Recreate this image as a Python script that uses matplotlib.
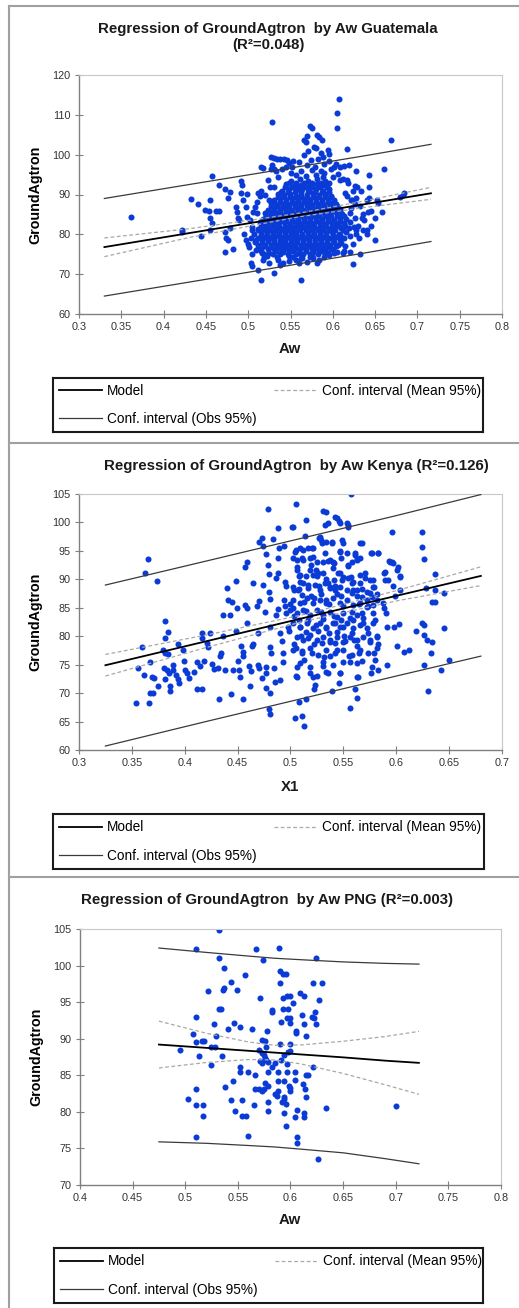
import matplotlib
matplotlib.use('Agg')
import matplotlib.pyplot as plt
from matplotlib.lines import Line2D

plt.rcParams['font.family'] = ['Liberation Sans', 'DejaVu Sans']

W, H = 519, 1308

# ---------------- data ----------------
# Guatemala: (Aw, GroundAgtron) points
gt_points = [
    (0.361, 84.4), (0.422, 81.1), (0.422, 80.5), (0.432, 88.9), (0.441, 87.6), (0.444, 79.6),
    (0.449, 86.0), (0.454, 85.8), (0.455, 88.5), (0.457, 94.7), (0.455, 84.0), (0.457, 82.8),
    (0.455, 81.1), (0.462, 85.8), (0.466, 85.9), (0.466, 92.4), (0.472, 80.7), (0.474, 79.2),
    (0.476, 78.6), (0.473, 75.5), (0.473, 91.3), (0.476, 89.0), (0.479, 90.7), (0.478, 81.7),
    (0.482, 76.4), (0.485, 86.9), (0.487, 85.6), (0.488, 84.0), (0.489, 83.6), (0.491, 93.3),
    (0.493, 92.4), (0.492, 90.3), (0.494, 88.6), (0.497, 86.9), (0.495, 80.2), (0.497, 78.6),
    (0.498, 84.4), (0.499, 90.1), (0.501, 76.9), (0.503, 72.7), (0.505, 72.0), (0.504, 81.9),
    (0.507, 80.2), (0.508, 86.9), (0.510, 85.3), (0.509, 76.0), (0.512, 90.3), (0.514, 89.5),
    (0.512, 71.0), (0.515, 68.5), (0.515, 97.0), (0.517, 96.6), (0.516, 75.2), (0.519, 74.4),
    (0.520, 83.1), (0.521, 81.1), (0.523, 93.7), (0.526, 92.0), (0.527, 99.5), (0.530, 99.1),
    (0.534, 99.0), (0.538, 99.0), (0.542, 99.0), (0.546, 98.7), (0.553, 98.4), (0.527, 96.3),
    (0.530, 96.3), (0.528, 108.1), (0.531, 70.2), (0.537, 72.3), (0.541, 72.7), (0.545, 97.0),
    (0.550, 95.3), (0.553, 74.4), (0.557, 73.6), (0.560, 72.7), (0.563, 68.5), (0.564, 74.0),
    (0.566, 103.7), (0.568, 103.1), (0.570, 104.6), (0.573, 107.1), (0.575, 106.7), (0.578, 102.0),
    (0.580, 101.6), (0.581, 104.9), (0.584, 104.4), (0.587, 103.7), (0.586, 100.4), (0.588, 99.5),
    (0.594, 101.2), (0.595, 100.2), (0.605, 110.4), (0.605, 106.7), (0.607, 114.1), (0.601, 97.0),
    (0.604, 97.7), (0.609, 97.0), (0.613, 97.2), (0.619, 97.3), (0.617, 101.4), (0.581, 72.7),
    (0.577, 74.0), (0.573, 74.4), (0.628, 96.0), (0.626, 92.1), (0.629, 92.0), (0.633, 91.0),
    (0.624, 72.5), (0.632, 75.0), (0.643, 95.0), (0.643, 92.0), (0.640, 88.6), (0.643, 89.0),
    (0.645, 85.9), (0.642, 85.6), (0.640, 81.2), (0.650, 78.6), (0.652, 88.5), (0.653, 87.8),
    (0.658, 85.6), (0.661, 96.5), (0.669, 103.6), (0.680, 89.3), (0.683, 90.0), (0.684, 90.3),
    (0.620, 75.5), (0.612, 75.2), (0.613, 75.9), (0.601, 75.2), (0.598, 76.2), (0.596, 74.7),
    (0.636, 81.2), (0.628, 80.2), (0.631, 79.1), (0.634, 84.0), (0.637, 83.6), (0.625, 81.9),
    (0.627, 81.1), (0.620, 85.3), (0.623, 88.6), (0.626, 87.6), (0.614, 90.3), (0.617, 89.5),
    (0.617, 93.7), (0.609, 93.7),
    # dense core
    (0.522, 74.6), (0.534, 74.2), (0.548, 74.5), (0.562, 74.1), (0.575, 74.7), (0.590, 74.3),
    (0.515, 75.8), (0.524, 75.4), (0.533, 75.9), (0.541, 75.5), (0.552, 75.7), (0.560, 75.3),
    (0.568, 75.8), (0.577, 75.5), (0.586, 75.9), (0.594, 75.4),
    (0.511, 76.6), (0.519, 77.0), (0.527, 76.7), (0.535, 77.1), (0.543, 76.6), (0.550, 77.0),
    (0.557, 76.5), (0.564, 76.9), (0.571, 77.1), (0.579, 76.6), (0.587, 77.0), (0.596, 76.7),
    (0.604, 77.1),
    (0.508, 78.2), (0.516, 77.8), (0.523, 78.3), (0.530, 77.9), (0.537, 78.1), (0.544, 77.7),
    (0.551, 78.2), (0.558, 78.0), (0.565, 77.8), (0.572, 78.3), (0.579, 77.9), (0.586, 78.2),
    (0.593, 77.8), (0.601, 78.1), (0.610, 77.9),
    (0.512, 79.0), (0.519, 79.4), (0.526, 79.1), (0.533, 79.5), (0.540, 79.0), (0.547, 79.3),
    (0.554, 78.9), (0.561, 79.4), (0.568, 79.1), (0.575, 79.5), (0.582, 79.0), (0.589, 79.3),
    (0.596, 79.0), (0.604, 79.4), (0.613, 79.1),
    (0.515, 80.6), (0.522, 80.2), (0.529, 80.5), (0.536, 80.1), (0.543, 80.6), (0.550, 80.3),
    (0.557, 80.7), (0.564, 80.2), (0.571, 80.5), (0.578, 80.1), (0.585, 80.6), (0.592, 80.3),
    (0.599, 80.5), (0.607, 80.2), (0.616, 80.6),
    (0.511, 81.4), (0.518, 81.8), (0.525, 81.5), (0.532, 81.9), (0.539, 81.4), (0.546, 81.7),
    (0.553, 81.3), (0.560, 81.8), (0.567, 81.5), (0.574, 81.9), (0.581, 81.4), (0.588, 81.7),
    (0.595, 81.3), (0.602, 81.8), (0.610, 81.5), (0.619, 81.7),
    (0.514, 83.0), (0.521, 82.6), (0.528, 82.9), (0.535, 82.5), (0.542, 83.0), (0.549, 82.7),
    (0.556, 83.1), (0.563, 82.6), (0.570, 82.9), (0.577, 82.5), (0.584, 83.0), (0.591, 82.7),
    (0.598, 83.1), (0.605, 82.6), (0.613, 82.9),
    (0.517, 83.8), (0.524, 84.2), (0.531, 83.9), (0.538, 84.3), (0.545, 83.8), (0.552, 84.1),
    (0.559, 83.7), (0.566, 84.2), (0.573, 83.9), (0.580, 84.3), (0.587, 83.8), (0.594, 84.1),
    (0.601, 83.7), (0.608, 84.2), (0.616, 83.9),
    (0.520, 85.4), (0.527, 85.0), (0.534, 85.3), (0.541, 84.9), (0.548, 85.4), (0.555, 85.1),
    (0.562, 85.5), (0.569, 85.0), (0.576, 85.3), (0.583, 84.9), (0.590, 85.4), (0.597, 85.1),
    (0.604, 85.5), (0.611, 85.0),
    (0.523, 86.2), (0.530, 86.6), (0.537, 86.3), (0.544, 86.7), (0.551, 86.2), (0.558, 86.5),
    (0.565, 86.1), (0.572, 86.6), (0.579, 86.3), (0.586, 86.7), (0.593, 86.2), (0.600, 86.5),
    (0.608, 86.3),
    (0.527, 87.8), (0.534, 87.4), (0.541, 87.7), (0.548, 87.3), (0.555, 87.8), (0.562, 87.5),
    (0.569, 87.9), (0.576, 87.4), (0.583, 87.7), (0.590, 87.3), (0.597, 87.8), (0.604, 87.5),
    (0.531, 88.6), (0.538, 89.0), (0.545, 88.7), (0.552, 89.1), (0.559, 88.6), (0.566, 88.9),
    (0.573, 88.5), (0.580, 89.0), (0.587, 88.7), (0.594, 89.1), (0.601, 88.6),
    (0.535, 90.2), (0.542, 89.8), (0.549, 90.1), (0.556, 89.7), (0.563, 90.2), (0.570, 89.9),
    (0.577, 90.3), (0.584, 89.8), (0.591, 90.1), (0.598, 89.7),
    (0.540, 91.0), (0.548, 91.4), (0.556, 91.1), (0.564, 91.5), (0.572, 91.0), (0.580, 91.3),
    (0.588, 90.9), (0.596, 91.4),
    (0.545, 92.6), (0.554, 92.2), (0.563, 92.5), (0.572, 92.1), (0.581, 92.6), (0.590, 92.3),
    (0.551, 93.4), (0.561, 93.8), (0.571, 93.5), (0.581, 93.9), (0.591, 93.4),
    (0.556, 95.0), (0.568, 94.6), (0.580, 94.9), (0.589, 94.5),
    (0.563, 95.8), (0.575, 96.2), (0.586, 95.9),
    # fringe
    (0.528, 97.5), (0.533, 95.8), (0.540, 96.3), (0.548, 97.8), (0.552, 96.8), (0.570, 97.5),
    (0.574, 98.6), (0.579, 97.0), (0.583, 99.0), (0.590, 97.6), (0.595, 98.3), (0.598, 96.5),
    (0.560, 98.2), (0.566, 100.0), (0.571, 101.0), (0.590, 95.5), (0.600, 94.5), (0.606, 95.2),
    (0.612, 94.0), (0.618, 92.8), (0.624, 91.0), (0.628, 89.2), (0.632, 87.0), (0.636, 85.0),
    (0.622, 86.5), (0.626, 84.0), (0.630, 82.0), (0.620, 79.5), (0.624, 77.5), (0.614, 77.0),
    (0.605, 75.5), (0.584, 73.6), (0.570, 73.0), (0.548, 73.2), (0.535, 73.5), (0.525, 72.8),
    (0.518, 73.5), (0.505, 75.0), (0.500, 77.5), (0.503, 79.0), (0.505, 81.0), (0.502, 83.5),
    (0.506, 85.5), (0.510, 88.0), (0.515, 91.0), (0.520, 90.0), (0.525, 88.5), (0.530, 92.0),
    (0.535, 94.5), (0.620, 83.0), (0.622, 88.5), (0.640, 80.0), (0.645, 82.0), (0.650, 84.0),
]

# Guatemala, densest part of the cloud, read row by row: (GroundAgtron, [Aw ...])
gt_core_rows = [
    (75.0, [0.519, 0.529, 0.538, 0.547, 0.556, 0.565, 0.573, 0.582, 0.591]),
    (76.2, [0.515, 0.523, 0.531, 0.539, 0.547, 0.554, 0.561, 0.568, 0.575, 0.583, 0.591, 0.600]),
    (77.4, [0.512, 0.520, 0.527, 0.534, 0.541, 0.548, 0.555, 0.562, 0.569, 0.576, 0.583, 0.590,
            0.597, 0.606]),
    (78.6, [0.509, 0.516, 0.523, 0.530, 0.537, 0.544, 0.551, 0.558, 0.565, 0.572, 0.579, 0.586,
            0.593, 0.600, 0.608]),
    (79.8, [0.515, 0.522, 0.529, 0.536, 0.543, 0.550, 0.557, 0.564, 0.571, 0.578, 0.585, 0.592,
            0.600, 0.609]),
    (81.0, [0.512, 0.519, 0.526, 0.533, 0.540, 0.547, 0.554, 0.561, 0.568, 0.575, 0.582, 0.589,
            0.596, 0.603, 0.612]),
    (82.2, [0.515, 0.522, 0.529, 0.536, 0.543, 0.550, 0.557, 0.564, 0.571, 0.578, 0.585, 0.592,
            0.599, 0.607, 0.615]),
    (83.4, [0.517, 0.524, 0.531, 0.538, 0.545, 0.552, 0.559, 0.566, 0.573, 0.580, 0.587, 0.594,
            0.601, 0.609]),
    (84.6, [0.521, 0.528, 0.535, 0.542, 0.549, 0.556, 0.563, 0.570, 0.577, 0.584, 0.591, 0.598,
            0.605, 0.613]),
    (85.8, [0.524, 0.531, 0.538, 0.545, 0.552, 0.559, 0.566, 0.573, 0.580, 0.587, 0.594, 0.601,
            0.609]),
    (87.0, [0.527, 0.534, 0.541, 0.548, 0.555, 0.562, 0.569, 0.576, 0.583, 0.590, 0.597, 0.605]),
    (88.2, [0.531, 0.538, 0.545, 0.552, 0.559, 0.566, 0.573, 0.580, 0.587, 0.594, 0.602]),
    (89.4, [0.535, 0.542, 0.549, 0.556, 0.563, 0.570, 0.577, 0.584, 0.591, 0.598]),
    (90.6, [0.539, 0.547, 0.555, 0.563, 0.571, 0.579, 0.587, 0.595]),
    (91.8, [0.543, 0.552, 0.560, 0.568, 0.576, 0.585, 0.593]),
    (93.0, [0.548, 0.557, 0.566, 0.576, 0.586, 0.595]),
]

# Kenya: (X1, GroundAgtron)
ke_points = [
    (0.354, 68.3), (0.366, 68.3), (0.360, 78.1), (0.356, 74.5), (0.361, 73.2), (0.362, 91.2),
    (0.365, 93.5), (0.374, 89.7), (0.367, 75.4), (0.369, 72.8), (0.371, 72.7), (0.367, 70.0),
    (0.370, 70.0), (0.375, 71.3), (0.381, 82.7), (0.384, 80.7), (0.381, 79.6), (0.379, 77.5),
    (0.381, 77.1), (0.384, 76.9), (0.380, 74.5), (0.383, 74.1), (0.385, 73.5), (0.381, 72.4),
    (0.386, 71.3), (0.386, 70.3), (0.389, 74.9), (0.389, 74.1), (0.392, 73.2), (0.394, 78.7),
    (0.394, 72.4), (0.395, 71.8), (0.398, 77.5), (0.399, 75.6), (0.400, 74.1), (0.402, 73.5),
    (0.404, 72.7), (0.409, 73.7), (0.412, 75.4), (0.414, 74.7), (0.412, 70.8), (0.416, 70.8),
    (0.416, 80.6), (0.416, 79.6), (0.418, 75.7), (0.421, 78.8), (0.422, 78.1), (0.424, 80.5),
    (0.426, 75.2), (0.428, 74.2), (0.431, 74.5), (0.433, 76.5), (0.432, 69.0), (0.434, 77.1),
    (0.436, 80.1), (0.436, 83.7), (0.438, 74.0), (0.440, 88.4), (0.441, 86.3), (0.445, 86.0),
    (0.443, 83.7), (0.444, 69.8), (0.446, 74.1), (0.448, 89.7), (0.448, 81.0), (0.449, 84.9),
    (0.450, 75.6), (0.451, 74.1), (0.452, 72.8), (0.453, 78.2), (0.455, 77.3), (0.455, 76.6),
    (0.455, 68.9), (0.457, 85.5), (0.459, 85.0), (0.457, 92.2), (0.459, 93.0), (0.459, 82.3),
    (0.461, 74.7), (0.463, 73.9), (0.462, 71.2), (0.464, 78.2), (0.465, 78.7), (0.465, 89.4),
    (0.468, 85.3), (0.470, 86.2), (0.469, 80.6), (0.469, 75.0), (0.470, 74.5), (0.470, 96.6),
    (0.473, 97.2), (0.474, 89.0), (0.474, 95.9), (0.477, 94.4), (0.476, 84.3), (0.477, 74.6),
    (0.473, 72.6), (0.477, 73.5), (0.477, 70.9), (0.479, 102.4), (0.479, 92.6), (0.480, 91.0),
    (0.480, 87.7), (0.481, 86.5), (0.481, 81.7), (0.481, 78.1), (0.482, 77.1), (0.481, 70.0),
    (0.480, 67.2), (0.481, 66.4), (0.483, 97.1), (0.484, 74.5), (0.485, 72.0), (0.486, 90.3),
    (0.488, 91.1), (0.486, 83.7), (0.488, 84.7), (0.488, 99.1), (0.488, 93.7), (0.489, 95.5),
    (0.490, 80.5), (0.492, 79.2), (0.493, 77.1), (0.490, 72.3), (0.494, 95.9), (0.494, 86.3),
    (0.495, 85.4), (0.496, 84.1), (0.493, 75.5), (0.495, 89.6), (0.496, 88.9), (0.498, 81.7),
    (0.499, 80.9), (0.500, 85.6), (0.502, 84.9), (0.503, 83.5), (0.501, 99.2), (0.502, 93.7),
    (0.503, 78.7), (0.505, 77.9), (0.503, 88.1), (0.504, 65.7), (0.505, 103.2), (0.505, 73.0),
    (0.506, 74.6), (0.505, 95.1), (0.506, 92.1), (0.508, 90.5), (0.509, 89.6), (0.508, 88.3),
    (0.508, 82.9), (0.509, 81.7), (0.510, 80.0), (0.508, 68.5), (0.511, 93.8), (0.512, 95.2),
    (0.511, 87.2), (0.513, 86.0), (0.511, 77.4), (0.513, 75.9), (0.511, 65.9), (0.513, 64.3),
    (0.514, 97.6), (0.515, 100.5), (0.515, 90.5), (0.517, 89.0), (0.515, 84.4), (0.517, 82.9),
    (0.515, 80.7), (0.517, 79.6), (0.515, 68.9), (0.518, 73.5), (0.519, 92.6), (0.521, 94.0),
    (0.520, 95.5), (0.519, 87.1), (0.522, 86.7), (0.520, 77.1), (0.522, 78.7), (0.522, 70.7),
    (0.523, 71.4), (0.524, 91.7), (0.525, 90.6), (0.524, 81.9), (0.526, 80.9), (0.525, 73.0),
    (0.527, 97.2), (0.529, 96.9), (0.527, 88.8), (0.529, 87.5), (0.529, 84.2), (0.531, 83.1),
    (0.530, 78.8), (0.531, 102.0), (0.531, 74.7), (0.532, 76.4), (0.533, 99.6), (0.535, 99.9),
    (0.533, 94.6), (0.535, 93.3), (0.534, 90.1), (0.535, 89.4), (0.537, 88.4), (0.534, 86.4),
    (0.536, 85.6), (0.534, 81.7), (0.536, 80.6), (0.537, 79.3), (0.535, 73.5), (0.537, 76.5),
    (0.539, 70.3), (0.539, 96.4), (0.541, 92.8), (0.541, 89.9), (0.542, 88.8), (0.544, 87.5),
    (0.541, 83.5), (0.542, 82.3), (0.544, 80.8), (0.542, 78.8), (0.544, 77.6), (0.542, 101.0),
    (0.546, 100.3), (0.546, 71.8), (0.547, 73.5), (0.547, 94.9), (0.548, 93.7), (0.547, 91.1),
    (0.549, 89.9), (0.548, 87.0), (0.550, 85.3), (0.548, 82.9), (0.550, 81.7), (0.551, 80.0),
    (0.552, 79.2), (0.553, 99.9), (0.554, 99.2), (0.556, 67.4), (0.557, 105.0), (0.555, 76.5),
    (0.556, 75.4), (0.554, 92.3), (0.557, 90.4), (0.558, 89.4), (0.559, 88.2), (0.558, 84.3),
    (0.559, 82.9), (0.558, 80.6), (0.560, 79.4), (0.561, 70.7), (0.561, 94.6), (0.563, 93.5),
    (0.563, 87.0), (0.565, 85.7), (0.563, 78.2), (0.565, 77.1), (0.563, 69.1), (0.564, 72.8),
    (0.566, 96.4), (0.566, 89.4), (0.568, 88.3), (0.568, 84.1), (0.569, 82.3), (0.568, 75.6),
    (0.570, 91.1), (0.572, 86.4), (0.573, 85.3), (0.573, 80.5), (0.575, 79.4), (0.575, 87.6),
    (0.576, 94.6), (0.576, 73.5), (0.578, 89.9), (0.579, 88.7), (0.578, 84.1), (0.580, 82.9),
    (0.579, 77.1), (0.580, 75.9), (0.582, 80.0), (0.583, 78.7), (0.582, 87.4), (0.583, 94.6),
    (0.583, 74.1), (0.588, 91.1), (0.589, 89.9), (0.588, 84.9), (0.590, 84.1), (0.591, 81.7),
    (0.591, 74.9), (0.596, 98.4), (0.593, 93.3), (0.596, 93.0), (0.597, 88.8), (0.599, 87.0),
    (0.598, 81.7), (0.601, 78.2), (0.602, 92.1), (0.604, 90.5), (0.604, 88.1), (0.603, 82.2),
    (0.607, 77.3), (0.612, 77.6), (0.619, 81.0), (0.624, 98.4), (0.624, 95.7), (0.626, 93.5),
    (0.624, 82.3), (0.626, 81.9), (0.626, 80.3), (0.629, 79.4), (0.626, 74.9), (0.630, 70.3),
    (0.633, 77.1), (0.634, 79.0), (0.634, 86.1), (0.637, 86.1), (0.628, 88.4), (0.637, 90.9),
    (0.637, 88.1), (0.642, 74.1), (0.645, 81.4), (0.645, 87.6), (0.650, 75.8),
    (0.502, 99.2), (0.534, 101.8), (0.544, 100.8), (0.547, 99.9), (0.554, 99.5), (0.528, 97.4),
    (0.530, 96.4), (0.534, 96.6), (0.539, 96.6), (0.504, 94.8), (0.509, 95.5), (0.517, 95.5),
    (0.521, 95.5), (0.549, 96.9), (0.550, 96.4), (0.547, 94.8), (0.553, 94.6), (0.568, 96.4),
    (0.577, 94.6), (0.583, 94.6), (0.561, 94.3), (0.563, 93.4), (0.566, 93.8), (0.558, 93.0),
    (0.554, 92.5), (0.594, 93.0), (0.597, 92.9), (0.601, 91.6), (0.604, 90.4), (0.506, 93.4),
    (0.512, 93.4), (0.518, 93.8), (0.525, 93.0), (0.531, 93.0), (0.537, 93.4), (0.540, 93.0),
    (0.506, 91.6), (0.509, 90.8), (0.518, 91.6), (0.521, 90.8), (0.526, 91.1), (0.531, 91.1),
    (0.540, 92.0), (0.545, 91.1), (0.550, 90.4), (0.554, 90.2), (0.559, 89.5), (0.566, 90.8),
    (0.570, 90.2), (0.575, 89.9), (0.578, 88.7), (0.589, 91.3), (0.592, 89.9), (0.502, 88.7),
    (0.507, 88.1), (0.512, 89.4), (0.517, 88.5), (0.523, 89.0), (0.528, 88.1), (0.533, 89.4),
    (0.537, 88.7), (0.542, 88.1), (0.547, 88.7), (0.553, 88.1), (0.558, 87.6), (0.563, 88.1),
    (0.568, 86.9), (0.572, 87.8), (0.577, 86.9), (0.582, 86.4), (0.587, 85.8), (0.502, 86.4),
    (0.509, 85.8), (0.516, 86.7), (0.521, 85.8), (0.528, 86.4), (0.534, 85.8), (0.540, 86.7),
    (0.547, 85.8), (0.553, 86.4), (0.559, 85.5), (0.566, 85.8), (0.572, 85.1), (0.578, 85.5),
    (0.500, 84.6), (0.506, 84.1), (0.512, 84.6), (0.518, 83.7), (0.525, 84.6), (0.531, 83.7),
    (0.537, 84.3), (0.544, 83.4), (0.550, 84.1), (0.556, 83.2), (0.563, 83.7), (0.569, 83.2),
    (0.502, 82.3), (0.509, 81.6), (0.516, 82.3), (0.521, 81.4), (0.528, 82.3), (0.534, 81.4),
    (0.540, 82.3), (0.547, 81.6), (0.553, 82.3), (0.559, 81.4), (0.566, 82.0), (0.572, 81.4),
    (0.578, 82.3), (0.506, 79.9), (0.512, 79.3), (0.518, 80.2), (0.525, 79.3), (0.531, 79.9),
    (0.537, 79.0), (0.544, 79.9), (0.550, 79.0), (0.556, 79.9), (0.563, 79.3), (0.569, 79.9),
    (0.575, 79.0), (0.582, 79.9), (0.502, 77.6), (0.511, 77.1), (0.518, 77.9), (0.526, 76.7),
    (0.534, 77.6), (0.542, 77.1), (0.550, 77.6), (0.558, 76.7), (0.566, 77.6), (0.573, 77.1),
    (0.582, 77.9), (0.509, 75.3), (0.518, 74.6), (0.531, 75.5), (0.540, 75.0), (0.550, 75.5),
    (0.563, 75.3), (0.577, 74.6), (0.506, 72.8), (0.521, 72.8), (0.534, 73.7), (0.547, 73.5),
    (0.563, 72.8),
]

# PNG: (Aw, GroundAgtron)
png_points = [
    (0.5325, 104.9), (0.510, 102.2), (0.567, 102.2), (0.589, 102.4), (0.624, 101.1), (0.5325, 101.0),
    (0.574, 100.7), (0.537, 99.6), (0.557, 98.7), (0.543, 97.8), (0.590, 99.2), (0.593, 98.9),
    (0.596, 98.9), (0.590, 97.6), (0.621, 97.6), (0.630, 97.6), (0.537, 97.0), (0.536, 96.7),
    (0.549, 96.6), (0.522, 96.5), (0.609, 96.3), (0.613, 95.9), (0.571, 95.5), (0.597, 95.8),
    (0.600, 95.9), (0.593, 95.5), (0.602, 94.9), (0.627, 95.3), (0.532, 94.0), (0.534, 94.0),
    (0.582, 93.9), (0.582, 93.7), (0.593, 94.0), (0.598, 94.0), (0.623, 93.7), (0.611, 93.2),
    (0.510, 93.0), (0.597, 92.9), (0.600, 92.9), (0.620, 93.0), (0.622, 92.9), (0.591, 92.3),
    (0.600, 92.2), (0.546, 92.1), (0.527, 92.0), (0.613, 92.0), (0.624, 92.0), (0.552, 91.6),
    (0.541, 91.3), (0.563, 91.3), (0.578, 91.1), (0.605, 91.0), (0.605, 90.8), (0.507, 90.6),
    (0.529, 90.4), (0.615, 90.4), (0.573, 89.8), (0.576, 89.7), (0.510, 89.6), (0.516, 89.7),
    (0.518, 89.7), (0.590, 89.3), (0.600, 89.3), (0.495, 88.4), (0.524, 88.9), (0.528, 88.9),
    (0.577, 88.9), (0.570, 88.4), (0.598, 88.2), (0.600, 88.3), (0.594, 87.8), (0.513, 87.6),
    (0.535, 87.6), (0.573, 88.0), (0.575, 87.8), (0.576, 87.3), (0.577, 87.1), (0.591, 87.1),
    (0.579, 86.8), (0.571, 86.9), (0.573, 86.7), (0.585, 86.7), (0.582, 86.2), (0.597, 86.5),
    (0.524, 86.4), (0.621, 86.1), (0.552, 86.1), (0.552, 85.5), (0.604, 85.4), (0.617, 85.1),
    (0.615, 85.0), (0.560, 85.5), (0.566, 85.1), (0.579, 85.5), (0.588, 85.5), (0.597, 85.5),
    (0.594, 84.2), (0.588, 84.2), (0.604, 84.4), (0.545, 84.2), (0.538, 83.4), (0.576, 83.9),
    (0.579, 83.5), (0.599, 83.6), (0.600, 83.2), (0.612, 83.8), (0.510, 83.1), (0.566, 83.1),
    (0.570, 83.1), (0.573, 82.9), (0.575, 83.1), (0.588, 82.9), (0.600, 82.8), (0.614, 83.1),
    (0.585, 82.4), (0.587, 82.2), (0.594, 82.0), (0.594, 81.7), (0.615, 82.0), (0.503, 81.7),
    (0.543, 81.6), (0.554, 81.6), (0.579, 81.4), (0.592, 81.4), (0.510, 81.0), (0.517, 80.9),
    (0.565, 81.0), (0.596, 81.1), (0.634, 80.5), (0.700, 80.8), (0.547, 80.1), (0.579, 80.1),
    (0.594, 79.9), (0.606, 80.2), (0.613, 79.9), (0.517, 79.4), (0.554, 79.5), (0.558, 79.5),
    (0.604, 79.3), (0.613, 79.3), (0.596, 78.0), (0.510, 76.5), (0.560, 76.7), (0.606, 76.5),
    (0.606, 75.8), (0.626, 73.5),
]

# regression curves (model, mean CI, obs CI)
gt_fit_x = [0.330, 0.430, 0.560, 0.640, 0.716]
gt_model = [76.8, 80.3, 84.85, 87.65, 90.3]
gt_mean_hi = [79.1, 81.4, 85.3, 88.5, 91.8]
gt_mean_lo = [74.4, 79.2, 84.4, 86.8, 88.8]
gt_obs_hi = [89.0, 92.5, 97.0, 99.8, 102.6]
gt_obs_lo = [64.5, 68.0, 72.6, 75.4, 78.2]

ke_fit_x = [0.325, 0.420, 0.510, 0.600, 0.680]
ke_model = [74.9, 79.1, 83.1, 87.1, 90.6]
ke_mean_hi = [76.8, 80.2, 83.7, 88.0, 92.2]
ke_mean_lo = [73.0, 78.0, 82.5, 86.2, 88.9]
ke_obs_hi = [89.0, 93.2, 97.2, 101.2, 104.9]
ke_obs_lo = [60.7, 65.0, 69.0, 73.0, 76.5]

png_fit_x = [0.475, 0.520, 0.560, 0.585, 0.610, 0.650, 0.690, 0.722]
png_model = [89.2, 88.75, 88.35, 88.1, 87.85, 87.45, 87.0, 86.7]
png_mean_hi = [92.4, 90.75, 89.55, 89.1, 89.15, 89.65, 90.3, 91.0]
png_mean_lo = [86.0, 86.75, 87.15, 87.1, 86.55, 85.25, 83.7, 82.4]
png_obs_hi = [102.4, 101.8, 101.3, 101.0, 100.8, 100.5, 100.3, 100.2]
png_obs_lo = [75.9, 75.7, 75.4, 75.2, 74.9, 74.4, 73.6, 72.9]

gt_xticks = [0.3, 0.35, 0.4, 0.45, 0.5, 0.55, 0.6, 0.65, 0.7, 0.75, 0.8]
gt_yticks = [60, 70, 80, 90, 100, 110, 120]
ke_xticks = [0.3, 0.35, 0.4, 0.45, 0.5, 0.55, 0.6, 0.65, 0.7]
ke_yticks = [60, 65, 70, 75, 80, 85, 90, 95, 100, 105]
png_xticks = [0.4, 0.45, 0.5, 0.55, 0.6, 0.65, 0.7, 0.75, 0.8]
png_yticks = [70, 75, 80, 85, 90, 95, 100, 105]

titles = ['Regression of GroundAgtron  by Aw Guatemala\n(R²=0.048)',
          'Regression of GroundAgtron  by Aw Kenya (R²=0.126)',
          'Regression of GroundAgtron  by Aw PNG (R²=0.003)']
xlabels = ['Aw', 'X1', 'Aw']

DOT = '#0A3BD6'

# unpack the row-wise core into points
gt_all = gt_points + [(x, y) for y, row in gt_core_rows for x in row]


def box(l, t, r, b):
    return [l / W, 1 - b / H, (r - l) / W, (b - t) / H]


def panel(fig, ax_px, leg_px, pts, fit_x, model, mhi, mlo, ohi, olo,
          xticks, yticks, title, title_px, xlabel, xlabel_y):
    ax = fig.add_axes(box(*ax_px))
    xs = [p[0] for p in pts]
    ys = [p[1] for p in pts]
    ax.scatter(xs, ys, s=19, color=DOT, linewidths=0, zorder=2)
    ax.plot(fit_x, model, color='black', lw=1.3, zorder=4)
    ax.plot(fit_x, mhi, color='#a8a8a8', lw=0.9, ls=(0, (3, 2)), zorder=3)
    ax.plot(fit_x, mlo, color='#a8a8a8', lw=0.9, ls=(0, (3, 2)), zorder=3)
    ax.plot(fit_x, ohi, color='#3a3a3a', lw=0.9, zorder=3)
    ax.plot(fit_x, olo, color='#3a3a3a', lw=0.9, zorder=3)
    ax.set_xlim(xticks[0], xticks[-1])
    ax.set_ylim(yticks[0], yticks[-1])
    ax.set_xticks(xticks)
    ax.set_yticks(yticks)
    ax.set_xticklabels([('%g' % v) for v in xticks])
    ax.tick_params(direction='inout', length=6, width=0.8, color='#808080',
                   labelsize=7.8, labelcolor='#333333', pad=3)
    for s in ['left', 'bottom']:
        ax.spines[s].set_color('#808080')
        ax.spines[s].set_linewidth(1.0)
    for s in ['top', 'right']:
        ax.spines[s].set_color('#c8c8c8')
        ax.spines[s].set_linewidth(0.8)
    ax.set_ylabel('GroundAgtron', fontsize=10.3, fontweight='bold', labelpad=7)
    fig.text(title_px[0] / W, 1 - title_px[1] / H, title, ha='center', va='center',
             fontsize=10.8, fontweight='bold', color='#1a1a1a', linespacing=1.1)
    fig.text(290 / W, 1 - xlabel_y / H, xlabel, ha='center', va='center',
             fontsize=10.8, fontweight='bold', color='#1a1a1a')

    lg = fig.add_axes(box(*leg_px))
    lg.set_xticks([])
    lg.set_yticks([])
    for s in lg.spines.values():
        s.set_color('#1a1a1a')
        s.set_linewidth(1.5)
    h_model = Line2D([], [], color='black', lw=1.3)
    h_obs = Line2D([], [], color='#3a3a3a', lw=0.9)
    h_mean = Line2D([], [], color='#a8a8a8', lw=0.9, ls=(0, (3, 2)))
    lg.legend([h_model, h_obs, h_mean],
              ['Model', 'Conf. interval (Obs 95%)', 'Conf. interval (Mean 95%)'],
              ncol=2, loc='center left', bbox_to_anchor=(6 / (leg_px[2] - leg_px[0]), 0.5),
              frameon=False, fontsize=9.8, borderpad=0.0,
              handlelength=3.15, handletextpad=0.37, columnspacing=1.3,
              labelspacing=1.05, borderaxespad=0.0)
    return ax


fig = plt.figure(figsize=(W / 100, H / 100), dpi=100)

panel(fig, (79, 75, 502, 314), (53, 378, 483, 432), gt_all, gt_fit_x, gt_model,
      gt_mean_hi, gt_mean_lo, gt_obs_hi, gt_obs_lo, gt_xticks, gt_yticks,
      titles[0], (268, 37), xlabels[0], 349)
panel(fig, (79, 494, 502, 750), (53, 814, 484, 869), ke_points, ke_fit_x, ke_model,
      ke_mean_hi, ke_mean_lo, ke_obs_hi, ke_obs_lo, ke_xticks, ke_yticks,
      titles[1], (296, 466), xlabels[1], 787)
panel(fig, (80, 929, 501, 1185), (54, 1248, 483, 1303), png_points, png_fit_x, png_model,
      png_mean_hi, png_mean_lo, png_obs_hi, png_obs_lo, png_xticks, png_yticks,
      titles[2], (267, 900), xlabels[2], 1220)

# chart-area frames
for (x0, y0, x1, y1) in [(9, 6, 519, 6), (9, 443, 519, 443), (9, 877, 519, 877), (9, 6, 9, 1308)]:
    fig.add_artist(Line2D([x0 / W, x1 / W], [1 - y0 / H, 1 - y1 / H],
                          color='#a0a0a0', lw=1.5))

fig.savefig('out.png', dpi=100)
